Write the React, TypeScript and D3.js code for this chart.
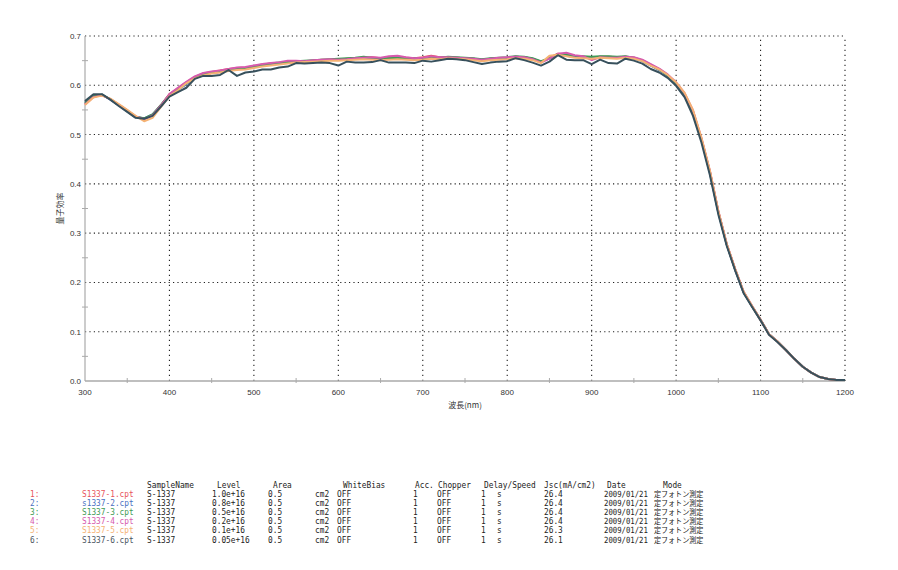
import * as d3 from 'd3';

// wavelength sampling (nm)
const wavelengths = [
  300, 310, 320, 330, 340, 350, 360, 370, 380, 390,
  400, 410, 420, 430, 440, 450, 460, 470, 480, 490,
  500, 510, 520, 530, 540, 550, 560, 570, 580, 590,
  600, 610, 620, 630, 640, 650, 660, 670, 680, 690,
  700, 710, 720, 730, 740, 750, 760, 770, 780, 790,
  800, 810, 820, 830, 840, 850, 860, 870, 880, 890,
  900, 910, 920, 930, 940, 950, 960, 970, 980, 990,
  1000, 1010, 1020, 1030, 1040, 1050, 1060, 1070, 1080, 1090,
  1100, 1110, 1120, 1130, 1140, 1150, 1160, 1170, 1180, 1190, 1200,
];

const qe1 = [
  0.562, 0.577, 0.580, 0.572, 0.560, 0.548, 0.536, 0.532, 0.540, 0.560,
  0.582, 0.594, 0.606, 0.617, 0.624, 0.627, 0.630, 0.633, 0.635, 0.636,
  0.639, 0.642, 0.644, 0.645, 0.647, 0.648, 0.649, 0.650, 0.652, 0.652,
  0.652, 0.654, 0.655, 0.656, 0.657, 0.655, 0.656, 0.657, 0.656, 0.655,
  0.657, 0.660, 0.657, 0.657, 0.656, 0.655, 0.654, 0.652, 0.654, 0.655,
  0.656, 0.658, 0.657, 0.654, 0.647, 0.656, 0.664, 0.663, 0.659, 0.658,
  0.656, 0.658, 0.658, 0.657, 0.658, 0.656, 0.651, 0.642, 0.633, 0.620,
  0.604, 0.582, 0.547, 0.491, 0.425, 0.344, 0.277, 0.226, 0.180, 0.151,
  0.124, 0.095, 0.080, 0.063, 0.045, 0.029, 0.017, 0.008, 0.004, 0.002, 0.002,
];

const qe2 = [
  0.565, 0.579, 0.581, 0.571, 0.559, 0.547, 0.535, 0.533, 0.541, 0.559,
  0.580, 0.591, 0.602, 0.614, 0.621, 0.625, 0.627, 0.631, 0.633, 0.634,
  0.637, 0.640, 0.643, 0.645, 0.646, 0.648, 0.649, 0.650, 0.651, 0.652,
  0.652, 0.653, 0.654, 0.656, 0.655, 0.654, 0.654, 0.655, 0.654, 0.654,
  0.654, 0.656, 0.655, 0.657, 0.656, 0.655, 0.654, 0.652, 0.654, 0.655,
  0.656, 0.658, 0.657, 0.654, 0.648, 0.654, 0.662, 0.660, 0.658, 0.657,
  0.655, 0.658, 0.657, 0.656, 0.658, 0.655, 0.649, 0.640, 0.631, 0.619,
  0.603, 0.580, 0.544, 0.489, 0.422, 0.342, 0.276, 0.225, 0.179, 0.151,
  0.124, 0.095, 0.080, 0.063, 0.045, 0.029, 0.017, 0.008, 0.004, 0.002, 0.002,
];

const qe3 = [
  0.564, 0.578, 0.581, 0.572, 0.560, 0.548, 0.536, 0.533, 0.541, 0.560,
  0.581, 0.592, 0.604, 0.615, 0.622, 0.626, 0.628, 0.632, 0.634, 0.635,
  0.638, 0.641, 0.644, 0.646, 0.647, 0.649, 0.650, 0.651, 0.652, 0.653,
  0.654, 0.655, 0.656, 0.658, 0.656, 0.655, 0.655, 0.656, 0.655, 0.655,
  0.655, 0.657, 0.656, 0.658, 0.657, 0.656, 0.655, 0.653, 0.655, 0.656,
  0.657, 0.659, 0.658, 0.655, 0.649, 0.655, 0.663, 0.662, 0.660, 0.659,
  0.658, 0.659, 0.659, 0.658, 0.659, 0.656, 0.650, 0.641, 0.632, 0.620,
  0.604, 0.582, 0.546, 0.490, 0.424, 0.343, 0.277, 0.226, 0.180, 0.151,
  0.124, 0.095, 0.080, 0.063, 0.045, 0.029, 0.017, 0.008, 0.004, 0.002, 0.002,
];

const qe4 = [
  0.561, 0.576, 0.580, 0.572, 0.561, 0.549, 0.537, 0.531, 0.539, 0.559,
  0.582, 0.595, 0.607, 0.618, 0.625, 0.628, 0.630, 0.633, 0.636, 0.637,
  0.640, 0.643, 0.645, 0.647, 0.650, 0.650, 0.649, 0.651, 0.652, 0.653,
  0.652, 0.653, 0.655, 0.656, 0.657, 0.656, 0.659, 0.660, 0.657, 0.655,
  0.656, 0.659, 0.657, 0.657, 0.656, 0.655, 0.654, 0.652, 0.654, 0.656,
  0.657, 0.658, 0.657, 0.653, 0.646, 0.654, 0.664, 0.666, 0.661, 0.659,
  0.651, 0.657, 0.656, 0.656, 0.658, 0.657, 0.652, 0.643, 0.634, 0.622,
  0.606, 0.584, 0.549, 0.493, 0.426, 0.345, 0.278, 0.227, 0.181, 0.152,
  0.124, 0.095, 0.080, 0.063, 0.045, 0.029, 0.017, 0.008, 0.004, 0.002, 0.002,
];

const qe5 = [
  0.560, 0.575, 0.579, 0.573, 0.562, 0.550, 0.538, 0.527, 0.534, 0.556,
  0.578, 0.590, 0.604, 0.614, 0.620, 0.624, 0.626, 0.629, 0.631, 0.632,
  0.635, 0.638, 0.640, 0.642, 0.644, 0.646, 0.647, 0.648, 0.649, 0.650,
  0.650, 0.651, 0.652, 0.653, 0.652, 0.651, 0.652, 0.653, 0.652, 0.651,
  0.652, 0.654, 0.653, 0.655, 0.654, 0.653, 0.651, 0.649, 0.651, 0.652,
  0.653, 0.655, 0.654, 0.651, 0.645, 0.660, 0.662, 0.659, 0.656, 0.655,
  0.654, 0.656, 0.655, 0.654, 0.656, 0.654, 0.649, 0.640, 0.632, 0.621,
  0.606, 0.585, 0.550, 0.494, 0.427, 0.345, 0.278, 0.227, 0.181, 0.152,
  0.124, 0.095, 0.080, 0.063, 0.045, 0.029, 0.017, 0.008, 0.004, 0.002, 0.002,
];

const qe6 = [
  0.568, 0.582, 0.582, 0.571, 0.558, 0.546, 0.534, 0.532, 0.538, 0.557,
  0.577, 0.586, 0.595, 0.613, 0.619, 0.619, 0.621, 0.631, 0.619, 0.626,
  0.628, 0.632, 0.632, 0.636, 0.638, 0.645, 0.644, 0.645, 0.646, 0.645,
  0.640, 0.648, 0.646, 0.646, 0.647, 0.651, 0.646, 0.646, 0.646, 0.645,
  0.650, 0.648, 0.651, 0.654, 0.653, 0.651, 0.647, 0.643, 0.646, 0.648,
  0.649, 0.655, 0.651, 0.646, 0.640, 0.648, 0.661, 0.652, 0.651, 0.651,
  0.643, 0.652, 0.645, 0.644, 0.654, 0.650, 0.644, 0.633, 0.626, 0.615,
  0.599, 0.576, 0.538, 0.484, 0.418, 0.338, 0.274, 0.224, 0.178, 0.150,
  0.123, 0.094, 0.079, 0.063, 0.045, 0.029, 0.017, 0.008, 0.004, 0.002, 0.002,
];

const series = [qe1, qe2, qe3, qe4, qe5, qe6];
const lineColors = ['#e8535b', '#4a70c2', '#3f9b55', '#d65aad', '#f5b274', '#37505c'];
const textColors = ['#e8535b', '#4a70c2', '#3f9b55', '#d65aad', '#f5b274', '#4a5560'];

const xTicks = [300, 400, 500, 600, 700, 800, 900, 1000, 1100, 1200];
const xMinor = [350, 450, 550, 650, 750, 850, 950, 1050, 1150];
const yTicks = [0, 0.1, 0.2, 0.3, 0.4, 0.5, 0.6, 0.7];
const yMinor = [0.05, 0.15, 0.25, 0.35, 0.45, 0.55, 0.65];

// measurement table
const fileNames = ['S1337-1.cpt', 's1337-2.cpt', 'S1337-3.cpt', 'S1337-4.cpt', 'S1337-5.cpt', 'S1337-6.cpt'];
const sampleNames = ['S-1337', 'S-1337', 'S-1337', 'S-1337', 'S-1337', 'S-1337'];
const levels = ['1.0e+16', '0.8e+16', '0.5e+16', '0.2e+16', '0.1e+16', '0.05e+16'];
const areas = ['0.5', '0.5', '0.5', '0.5', '0.5', '0.5'];
const jscValues = ['26.4', '26.4', '26.4', '26.4', '26.3', '26.1'];
const dates = ['2009/01/21', '2009/01/21', '2009/01/21', '2009/01/21', '2009/01/21', '2009/01/21'];
const modes = ['定フォトン測定', '定フォトン測定', '定フォトン測定', '定フォトン測定', '定フォトン測定', '定フォトン測定'];

const W = 898;
const H = 570;
const margin = { top: 36, right: 53, bottom: 189, left: 85 };

const MONO = '"DejaVu Sans Mono", monospace';
const CJK = '"Noto Sans CJK JP", sans-serif';
const SANS = '"Liberation Sans", Arial, sans-serif';

function Cell({ x, y, text, fill = '#222', font = MONO, sx = 0.92, size = 8.5 }: { x: number; y: number; text: string; fill?: string; font?: string; sx?: number; size?: number }) {
  return (
    <text transform={`translate(${x},${y}) scale(${sx},1)`} fontFamily={font} fontSize={size} fill={fill}>
      {text}
    </text>
  );
}

export default function App() {
  const x = d3.scaleLinear().domain([300, 1200]).range([margin.left, W - margin.right]);
  const y = d3.scaleLinear().domain([0, 0.7]).range([H - margin.bottom, margin.top]);
  const line = d3
    .line<number>()
    .x((_, i) => x(wavelengths[i]))
    .y((d) => y(d));

  const x0 = x(300);
  const x1 = x(1200);
  const y0 = y(0);
  const y1 = y(0.7);

  // table rows
  const headY = 487.5;
  const rowY = (i: number) => 496.5 + i * 9.2;

  return (
    <svg width={W} height={H} style={{ position: 'absolute', left: 0, top: 0, background: '#fff' }}>
      <rect width={W} height={H} fill="#fff" />

      {/* grid */}
      {yTicks.filter((t) => t > 0).map((t) => (
        <line key={`gy${t}`} x1={x0} x2={x1} y1={y(t)} y2={y(t)} stroke="#222" strokeWidth={1.1} strokeDasharray="1.2,3.2" />
      ))}
      {xTicks.filter((t) => t > 300).map((t) => (
        <line key={`gx${t}`} x1={x(t)} x2={x(t)} y1={y0} y2={y1} stroke="#222" strokeWidth={1.1} strokeDasharray="1.2,3.8" />
      ))}

      {/* axes */}
      <line x1={x0} x2={x0} y1={y0} y2={y1} stroke="#aaa" strokeWidth={1.2} />
      <line x1={x0} x2={x1} y1={y0} y2={y0} stroke="#aaa" strokeWidth={1.4} />
      {yMinor.map((t) => (
        <line key={`my${t}`} x1={x0 - 3} x2={x0 + 3} y1={y(t)} y2={y(t)} stroke="#aaa" strokeWidth={1} />
      ))}
      {xMinor.map((t) => (
        <line key={`mx${t}`} x1={x(t)} x2={x(t)} y1={y0 - 3} y2={y0 + 2} stroke="#aaa" strokeWidth={1} />
      ))}
      {yTicks.map((t) => (
        <text key={`ty${t}`} x={x0 - 4} y={y(t) + 3} textAnchor="end" fontFamily={SANS} fontSize={8} fill="#333">
          {t.toFixed(1)}
        </text>
      ))}
      {xTicks.map((t) => (
        <text key={`tx${t}`} x={x(t)} y={y0 + 14} textAnchor="middle" fontFamily={SANS} fontSize={8} fill="#333">
          {t}
        </text>
      ))}
      <text x={(x0 + x1) / 2} y={y0 + 27} textAnchor="middle" fontFamily={CJK} fontSize={8} fill="#333">
        波長(nm)
      </text>
      <text transform={`translate(${63},${(y0 + y1) / 2}) rotate(-90)`} textAnchor="middle" fontFamily={CJK} fontSize={8} fill="#333">
        量子効率
      </text>

      {/* curves */}
      {series.map((s, i) => (
        <path key={`s${i}`} d={line(s) ?? ''} fill="none" stroke={lineColors[i]} strokeWidth={2} strokeLinejoin="round" />
      ))}

      {/* table */}
      <Cell x={147} y={headY} text="SampleName" />
      <Cell x={217} y={headY} text="Level" />
      <Cell x={273} y={headY} text="Area" />
      <Cell x={343} y={headY} text="WhiteBias" />
      <Cell x={415} y={headY} text="Acc." />
      <Cell x={438} y={headY} text="Chopper" />
      <Cell x={484} y={headY} text="Delay/Speed" />
      <Cell x={544} y={headY} text="Jsc(mA/cm2)" />
      <Cell x={607} y={headY} text="Date" />
      <Cell x={663} y={headY} text="Mode" />
      {fileNames.map((f, i) => (
        <g key={`row${i}`}>
          <Cell x={30} y={rowY(i)} text={`${i + 1}:`} fill={textColors[i]} />
          <Cell x={82} y={rowY(i)} text={f} fill={textColors[i]} />
          <Cell x={147} y={rowY(i)} text={sampleNames[i]} />
          <Cell x={212} y={rowY(i)} text={levels[i]} />
          <Cell x={268} y={rowY(i)} text={areas[i]} />
          <Cell x={315} y={rowY(i)} text="cm2" />
          <Cell x={337} y={rowY(i)} text="OFF" />
          <Cell x={413} y={rowY(i)} text="1" />
          <Cell x={437} y={rowY(i)} text="OFF" />
          <Cell x={481} y={rowY(i)} text="1" />
          <Cell x={497} y={rowY(i)} text="s" />
          <Cell x={544} y={rowY(i)} text={jscValues[i]} />
          <Cell x={604} y={rowY(i)} text={dates[i]} sx={0.86} />
          <Cell x={654} y={rowY(i)} text={modes[i]} font={CJK} size={7.5} sx={0.94} />
        </g>
      ))}
    </svg>
  );
}
